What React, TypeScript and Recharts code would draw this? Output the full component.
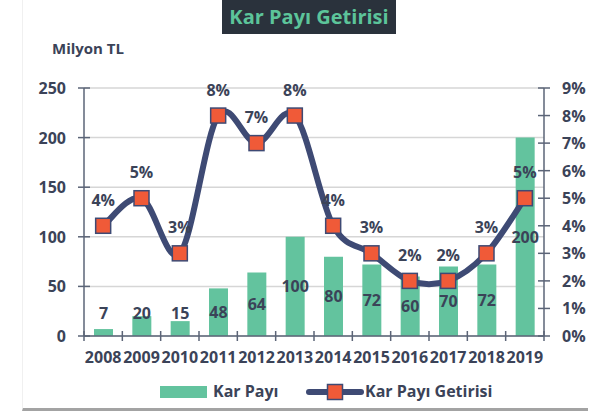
import React from 'react';
import {
  ComposedChart,
  Bar,
  Line,
  XAxis,
  YAxis,
  CartesianGrid,
  LabelList,
} from 'recharts';

const years = ['2008', '2009', '2010', '2011', '2012', '2013', '2014', '2015', '2016', '2017', '2018', '2019'];
const dividend = [7, 20, 15, 48, 64, 100, 80, 72, 60, 70, 72, 200];
const dividendYield = [4, 5, 3, 8, 7, 8, 4, 3, 2, 2, 3, 5];
const leftTicks = [0, 50, 100, 150, 200, 250];
const rightTicks = [0, 1, 2, 3, 4, 5, 6, 7, 8, 9];

const data = years.map((year, i) => ({
  year,
  karPayi: dividend[i],
  getiri: dividendYield[i],
}));

const GREEN = '#63c39e';
const NAVY = '#3e4a74';
const ORANGE = '#f05a38';
const TEXT = '#3b4358';
const AXIS = '#5b6477';
const FONT = '"Open Sans", Lato, sans-serif';

const PLOT_LEFT = 84;
const PLOT_RIGHT = 544;
const STEP = (PLOT_RIGHT - PLOT_LEFT) / years.length;
// default tickSize (6) + tickMargin (2) between axis line and the tick's y
const X_TICK_OFFSET = 8;

// Excel-like smoothed line (Catmull-Rom through the points)
const excelSmooth = (context: any) => {
  let pts: number[][] = [];
  return {
    areaStart() {},
    areaEnd() {},
    lineStart() {
      pts = [];
    },
    point(x: number, y: number) {
      pts.push([+x, +y]);
    },
    lineEnd() {
      if (!pts.length) return;
      context.moveTo(pts[0][0], pts[0][1]);
      for (let i = 0; i < pts.length - 1; i++) {
        const p0 = pts[i - 1] || pts[i];
        const p1 = pts[i];
        const p2 = pts[i + 1];
        const p3 = pts[i + 2] || p2;
        context.bezierCurveTo(
          p1[0] + (p2[0] - p0[0]) / 6,
          p1[1] + (p2[1] - p0[1]) / 6,
          p2[0] - (p3[0] - p1[0]) / 6,
          p2[1] - (p3[1] - p1[1]) / 6,
          p2[0],
          p2[1]
        );
      }
    },
  };
};

const SquareDot = (props: any) => {
  const { cx, cy } = props;
  if (cx == null || cy == null) return null;
  return (
    <rect key={`dot-${props.index}`} x={cx - 7.5} y={cy - 7.5} width={15} height={15} fill={ORANGE} stroke={NAVY} strokeWidth={1.5} />
  );
};

const renderBarLabel = (props: any) => {
  const { x, y, width, height, value, index } = props;
  const base = Number(y) + Number(height);
  const cy = Math.min(Number(y) + Number(height) / 2, base - 23);
  return (
    <text
      key={`bl-${index}`}
      x={Number(x) + Number(width) / 2}
      y={cy}
      textAnchor="middle"
      dominantBaseline="central"
      fill={TEXT}
      fontSize={16}
      fontWeight={700}
      fontFamily={FONT}
    >
      {value}
    </text>
  );
};

const LeftTick = (props: any) => {
  const { x, y, payload } = props;
  return (
    <g>
      <line x1={x - 6} x2={x + 6} y1={y} y2={y} stroke={AXIS} strokeWidth={1.5} />
      <text x={x - 18} y={y} textAnchor="end" dominantBaseline="central" fill={TEXT} fontSize={16} fontWeight={700} fontFamily={FONT}>
        {payload.value}
      </text>
    </g>
  );
};

const RightTick = (props: any) => {
  const { x, y, payload } = props;
  return (
    <g>
      <line x1={x - 6} x2={x + 6} y1={y} y2={y} stroke={AXIS} strokeWidth={1.5} />
      <text x={x + 18} y={y} textAnchor="start" dominantBaseline="central" fill={TEXT} fontSize={16} fontWeight={700} fontFamily={FONT}>
        {`${payload.value}%`}
      </text>
    </g>
  );
};

const BottomTick = (props: any) => {
  const { x, y, payload, index } = props;
  const axisY = y - X_TICK_OFFSET;
  const last = index === years.length - 1;
  return (
    <g>
      <line x1={x - STEP / 2} x2={x - STEP / 2} y1={axisY - 5} y2={axisY + 5} stroke={AXIS} strokeWidth={1.5} />
      {last && <line x1={x + STEP / 2} x2={x + STEP / 2} y1={axisY - 5} y2={axisY + 5} stroke={AXIS} strokeWidth={1.5} />}
      <text x={x} y={axisY + 21} textAnchor="middle" dominantBaseline="central" fill={TEXT} fontSize={16} fontWeight={700} fontFamily={FONT}>
        {payload.value}
      </text>
    </g>
  );
};

export default function App() {
  return (
    <div style={{ position: 'absolute', left: 0, top: 0, width: 607, height: 417, background: '#fff', fontFamily: FONT }}>
      <div
        style={{
          position: 'absolute',
          left: 22,
          top: 0,
          width: 566,
          height: 411,
          borderLeft: '1px solid #f0f0f0',
          borderBottom: '3px solid #a3a3a3',
          boxSizing: 'border-box',
        }}
      />
      <div
        style={{
          position: 'absolute',
          left: 222,
          top: 0,
          width: 174,
          height: 34,
          background: '#2a323c',
          color: '#5cc49a',
          fontWeight: 700,
          fontSize: 20,
          lineHeight: '34px',
          textAlign: 'center',
          whiteSpace: 'nowrap',
        }}
      >
        Kar Payı Getirisi
      </div>
      <div style={{ position: 'absolute', left: 52, top: 38, color: TEXT, fontWeight: 700, fontSize: 15 }}>Milyon TL</div>

      <div style={{ position: 'absolute', left: 0, top: 0 }}>
        <ComposedChart
          width={607}
          height={417}
          data={data}
          margin={{ top: 88, right: 13, left: 30, bottom: 51 }}
        >
          <CartesianGrid vertical={false} stroke="#d6d6d6" strokeWidth={1.5} yAxisId="left" />
          <XAxis
            dataKey="year"
            height={30}
            axisLine={{ stroke: AXIS, strokeWidth: 1.5 }}
            tickLine={false}
            tick={<BottomTick />}
            interval={0}
          />
          <YAxis
            yAxisId="left"
            width={54}
            domain={[0, 250]}
            ticks={leftTicks}
            axisLine={{ stroke: AXIS, strokeWidth: 1.5 }}
            tickLine={false}
            tickSize={0}
            tickMargin={0}
            tick={<LeftTick />}
          />
          <YAxis
            yAxisId="right"
            orientation="right"
            width={50}
            domain={[0, 9]}
            ticks={rightTicks}
            axisLine={{ stroke: AXIS, strokeWidth: 1.5 }}
            tickLine={false}
            tickSize={0}
            tickMargin={0}
            tick={<RightTick />}
          />
          <Bar yAxisId="left" dataKey="karPayi" barSize={19} fill={GREEN} isAnimationActive={false} label={renderBarLabel} />
          <Line
            yAxisId="right"
            dataKey="getiri"
            type={excelSmooth as any}
            stroke={NAVY}
            strokeWidth={6}
            dot={SquareDot}
            activeDot={false}
            isAnimationActive={false}
          >
            <LabelList
              dataKey="getiri"
              position="top"
              offset={20}
              formatter={(v: any) => `${v}%`}
              fill={TEXT}
              fontSize={16}
              fontWeight={700}
              fontFamily={FONT}
            />
          </Line>
        </ComposedChart>
      </div>

      <div style={{ position: 'absolute', left: 160, top: 386, width: 47, height: 12, background: GREEN }} />
      <div style={{ position: 'absolute', left: 213, top: 380, color: TEXT, fontWeight: 700, fontSize: 16 }}>Kar Payı</div>
      <svg style={{ position: 'absolute', left: 306, top: 383 }} width={58} height={18}>
        <line x1={3} x2={55} y1={9} y2={9} stroke={NAVY} strokeWidth={6} strokeLinecap="round" />
        <rect x={21.5} y={1.5} width={15} height={15} fill={ORANGE} stroke={NAVY} strokeWidth={1.5} />
      </svg>
      <div style={{ position: 'absolute', left: 365, top: 380, color: TEXT, fontWeight: 700, fontSize: 16 }}>Kar Payı Getirisi</div>
    </div>
  );
}
